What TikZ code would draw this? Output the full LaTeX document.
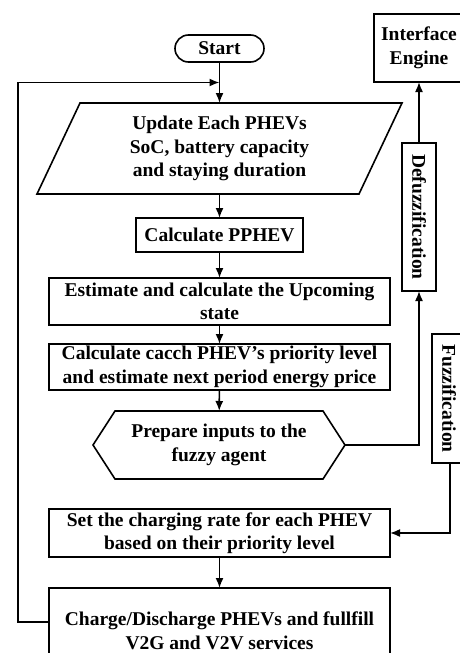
\documentclass[tikz,border=0pt]{standalone}
\usepackage{fontspec}
\usepackage{graphicx}
\setmainfont{Liberation Serif}
\usetikzlibrary{arrows.meta,calc}
\begin{document}
\begin{tikzpicture}[x=1pt,y=-1pt,
  line width=1.6pt,
  every node/.style={font=\bfseries\fontsize{19.5}{23.5}\selectfont, align=center, inner sep=0pt, outer sep=0pt},
  box/.style={draw, rectangle},
  arr/.style={-{Latex[length=10pt,width=8pt]}}]
\useasboundingbox (0,0) rectangle (459,653);

\node[draw, rounded corners=13.5pt, minimum width=89pt, minimum height=27pt] (start) at (219.5,48.5) {Start};

\node[minimum width=365pt, minimum height=91pt] (upd) at (219.5,148.5)
  {Update Each PHEVs\\SoC, battery capacity\\and staying duration};
\draw ($(upd.north west)+(43,0)$) -- (upd.north east) -- ($(upd.south east)+(-43,0)$) -- (upd.south west) -- cycle;

\node[box, minimum width=167pt, minimum height=34pt] (pphev) at (219.5,235) {Calculate PPHEV};

\node[box, minimum width=341pt, minimum height=47pt] (est) at (219.5,301.5)
  {Estimate and calculate the Upcoming\\state};

\node[box, minimum width=341pt, minimum height=46pt] (calc) at (219.5,367)
  {Calculate cacch PHEV's priority level\\and estimate next period energy price};

\node[minimum width=252pt, minimum height=68pt] (prep) at (219,445)
  {Prepare inputs to the\\fuzzy agent};
\draw (prep.west) -- ($(prep.north west)+(22,0)$) -- ($(prep.north east)+(-22,0)$) -- (prep.east)
  -- ($(prep.south east)+(-22,0)$) -- ($(prep.south west)+(22,0)$) -- cycle;

\node[box, minimum width=341pt, minimum height=48pt] (set) at (219.5,533)
  {Set the charging rate for each PHEV\\based on their priority level};

\node[box, minimum width=341pt, minimum height=86pt] (charge) at (219.5,631)
  {Charge/Discharge PHEVs and fullfill\\V2G and V2V services};

\node[box, minimum width=90pt, minimum height=68pt] (iface) at (419,48)
  {Interface\\Engine};

\node[box, minimum width=34pt, minimum height=148pt] (defuzz) at (419,217)
  {\rotatebox{-90}{Defuzzification}};

\node[box, minimum width=34pt, minimum height=129pt] (fuzz) at (449,398.5)
  {\rotatebox{-90}{Fuzzification}};

% main flow
\draw[arr] (start) -- (upd);
\draw[arr] (upd.south) -- (pphev);
\draw[arr] (pphev) -- (est);
\draw[arr] (est) -- (calc);
\draw[arr] (calc) -- (prep);
\draw[arr] (set) -- (charge);

% loop back
\draw[arr] ($(charge.north west)+(0,34)$) -- ++(-31,0) |- ($(start.south)!0.5!(upd.north)$);

% fuzzy side
\draw[arr] (prep.east) -| (defuzz.south);
\draw[arr] (defuzz) -- (iface);
\draw[arr] ($(fuzz.south)+(1,0)$) |- (set.east);
\end{tikzpicture}
\end{document}
